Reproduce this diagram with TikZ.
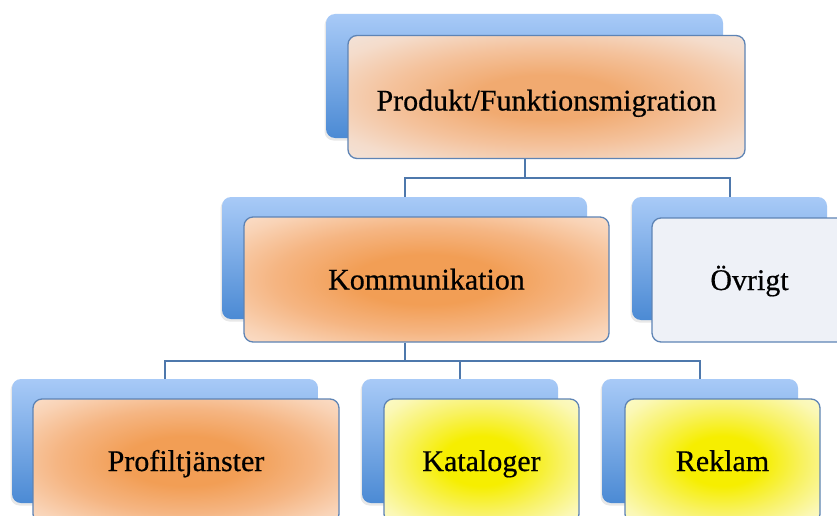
\documentclass[tikz,border=0pt]{standalone}
\usepackage{fontspec}
\setmainfont{Liberation Serif}
\newfontfamily\labelfont[FakeBold=0.5]{Liberation Serif}
\usetikzlibrary{shadows}

% palette
\definecolor{backtop}{HTML}{A8CAF7}
\definecolor{backbot}{HTML}{4B8AD4}
\definecolor{edgeblue}{HTML}{5E84B5}
\definecolor{linkblue}{HTML}{4E78AC}
\definecolor{orA}{HTML}{F29E55}
\definecolor{orB}{HTML}{F5B582}
\definecolor{orC}{HTML}{F9D3B6}
\definecolor{orD}{HTML}{FCE9DC}
\definecolor{orE}{HTML}{FEF6F1}
\definecolor{pgA}{HTML}{F1AA70}
\definecolor{pgB}{HTML}{F4C29C}
\definecolor{pgC}{HTML}{F4DCCB}
\definecolor{pgD}{HTML}{F1E8E4}
\definecolor{pgE}{HTML}{F2F0F1}
\definecolor{yeA}{HTML}{F6EE00}
\definecolor{yeB}{HTML}{F8F265}
\definecolor{yeC}{HTML}{FBF8B6}
\definecolor{yeD}{HTML}{FDFCDD}
\definecolor{yeE}{HTML}{FFFFF2}
\definecolor{greyfill}{HTML}{EEF1F7}

\pgfdeclareradialshading{orangeglow}{\pgfpointorigin}{%
  color(0bp)=(orA); color(10bp)=(orA); color(21bp)=(orB);
  color(31bp)=(orC); color(41bp)=(orD); color(54bp)=(orE); color(70bp)=(orE)}
\pgfdeclareradialshading{peachglow}{\pgfpointorigin}{%
  color(0bp)=(pgA); color(9bp)=(pgA); color(20bp)=(pgB);
  color(30bp)=(pgC); color(40bp)=(pgD); color(54bp)=(pgE); color(70bp)=(pgE)}
\pgfdeclareradialshading{yellowglow}{\pgfpointorigin}{%
  color(0bp)=(yeA); color(10bp)=(yeA); color(21bp)=(yeB);
  color(31bp)=(yeC); color(41bp)=(yeD); color(54bp)=(yeE); color(70bp)=(yeE)}

\tikzset{
  backbox/.style={rounded corners=9pt, inner sep=0pt,
    top color=backtop, bottom color=backbot,
    drop shadow={shadow xshift=-1.5pt, shadow yshift=-2.5pt, opacity=0.18}},
  frontbox/.style={rounded corners=9pt, inner sep=0pt, draw=edgeblue,
    line width=1.3pt, text=black, font=\labelfont\fontsize{30}{36}\selectfont,
    text height=24pt, text depth=4pt},
  orangebox/.style={frontbox, shading=orangeglow},
  peachbox/.style={frontbox, shading=peachglow},
  yellowbox/.style={frontbox, shading=yellowglow},
  plainbox/.style={frontbox, fill=greyfill},
  link/.style={draw=linkblue, line width=2pt},
}

\begin{document}
\begin{tikzpicture}[x=1pt, y=-1pt]
\useasboundingbox (0,0) rectangle (837,516);
\clip (0,0) rectangle (837,516);
\fill[white] (0,0) rectangle (837,516);

% bus heights
\coordinate (busA) at (0,178);
\coordinate (busB) at (0,361);

% back panels
\node[backbox, minimum width=397pt, minimum height=124pt] (topback)  at (524.5,76) {};
\node[backbox, minimum width=365pt, minimum height=122pt] (komback)  at (404.5,258) {};
\node[backbox, minimum width=195pt, minimum height=123pt] (ovrback)  at (729.5,258.5) {};
\node[backbox, minimum width=306pt, minimum height=124pt] (profback) at (165,441) {};
\node[backbox, minimum width=196pt, minimum height=124pt] (katback)  at (460,441) {};
\node[backbox, minimum width=196pt, minimum height=124pt] (rekback)  at (700,441) {};

% front panels with labels
\node[peachbox, minimum width=397pt, minimum height=123pt, text height=31pt] (top) at (546.5,97) {Produkt/Funktionsmigration};
\node[orangebox, minimum width=365pt, minimum height=125pt] (kom)  at (426.5,279.5) {Kommunikation};
\node[plainbox,  minimum width=195pt, minimum height=124pt] (ovr)  at (749.5,280) {Övrigt};
\node[orangebox, minimum width=306pt, minimum height=124pt] (prof) at (186,461) {Profiltjänster};
\node[yellowbox, minimum width=195pt, minimum height=124pt] (kat)  at (481.5,461) {Kataloger};
\node[yellowbox, minimum width=195pt, minimum height=124pt] (rek)  at (722.5,461) {Reklam};

% connectors
\draw[link] (topback.south |- top.south) -- (topback.south |- busA) -| (komback.north);
\draw[link] (topback.south |- busA) -| (ovrback.north);
\draw[link] (komback.south |- kom.south) -- (komback.south |- busB) -| (profback.north);
\draw[link] (komback.south |- busB) -| (katback.north);
\draw[link] (komback.south |- busB) -| (rekback.north);
\end{tikzpicture}
\end{document}
